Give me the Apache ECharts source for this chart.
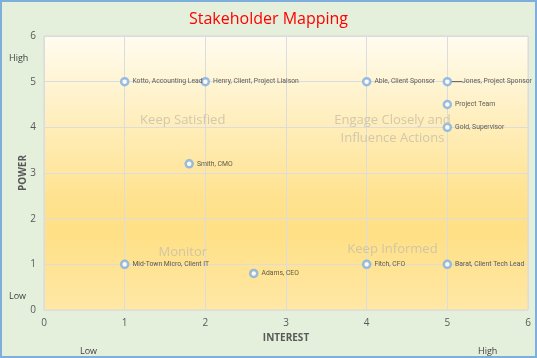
<!DOCTYPE html>
<html><head><meta charset="utf-8">
<script src="https://cdn.jsdelivr.net/npm/echarts@6/dist/echarts.min.js"></script>
<style>html,body{margin:0;padding:0;}#c{width:537px;height:358px;box-sizing:border-box;border:2px solid #7eaedc;background:#e4f0dc;}</style>
</head><body><div id="c"></div>
<script>
const names = ['Kotto, Accounting Lead','Henry, Client, Project Liaison','Able, Client Sponsor','Jones, Project Sponsor','Project Team','Gold, Supervisor','Smith, CMO','Mid-Town Micro, Client IT','Adams, CEO','Fitch, CFO','Barat, Client Tech Lead'];
const interest = [1,2,4,5,5,5,1.8,1,2.6,4,5];
const power = [5,5,5,5,4.5,4,3.2,1,0.8,1,1];
const quadNames = ['Keep Satisfied','Engage Closely and\nInfluence Actions','Monitor','Keep Informed'];
const quadX = [1.72,4.32,1.72,4.32];
const quadY = [4.16,3.96,1.27,1.33];

const chart = echarts.init(document.getElementById('c'));
const font = 'Open Sans';
const narrow = 'Roboto, sans-serif';
chart.setOption({
  animation:false,
  textStyle:{fontFamily:font},
  title:{text:'Stakeholder Mapping',left:'center',top:4,textStyle:{color:'#ff0000',fontSize:16,fontWeight:'normal',fontFamily:font}},
  grid:{left:42,right:7,top:34,bottom:46,containLabel:false,show:true,
    backgroundColor:new echarts.graphic.LinearGradient(0,0,0,1,[{offset:0,color:'#fffcf0'},{offset:0.6,color:'#ffe28e'},{offset:0.72,color:'#ffe086'},{offset:1,color:'#ffe8a6'}]),
    borderColor:'#d9d9d9',borderWidth:1},
  xAxis:{type:'value',min:0,max:6,interval:1,name:'INTEREST',nameLocation:'middle',nameGap:23,nameMoveOverlap:false,
    nameTextStyle:{color:'#595959',fontSize:10,fontWeight:'bold'},
    axisLine:{show:false},axisTick:{show:false},
    axisLabel:{color:'#595959',fontSize:10,margin:8},
    splitLine:{lineStyle:{color:'#dcdcdc',width:1}}},
  yAxis:{type:'value',min:0,max:6,interval:1,name:'POWER',nameLocation:'middle',nameGap:16,nameMoveOverlap:false,
    nameTextStyle:{color:'#595959',fontSize:10,fontWeight:'bold'},
    axisLine:{show:false},axisTick:{show:false},
    axisLabel:{color:'#595959',fontSize:10,margin:8},
    splitLine:{lineStyle:{color:'#dcdcdc',width:1}}},
  graphic:[
    {type:'text',left:7,top:52,style:{text:'High',fill:'#404040',font:'9px '+font}},
    {type:'text',left:7,top:290,style:{text:'Low',fill:'#404040',font:'9px '+font}},
    {type:'text',left:78,top:345,style:{text:'Low',fill:'#404040',font:'9px '+font}},
    {type:'text',left:476,top:345,style:{text:'High',fill:'#404040',font:'9px '+font}}
  ],
  series:[
    {type:'scatter',data:quadNames.map((n,i)=>({name:n,value:[quadX[i],quadY[i]]})),
     symbolSize:0,silent:true,
     label:{show:true,position:'inside',formatter:'{b}',color:'#c6bea9',fontSize:13,lineHeight:18,align:'center'}},
    {type:'scatter',data:names.map((n,i)=>({name:n,value:[interest[i],power[i]],
        labelLine:{show:i===3}})),
     symbol:'circle',symbolSize:7,
     itemStyle:{color:'#ffffff',borderColor:'#7eaee0',borderWidth:2.5},
     label:{show:true,position:'right',distance:3,formatter:'{b}',color:'#333333',fontSize:6.8,fontFamily:narrow},
     labelLine:{lineStyle:{color:'#595959',width:1}},
     labelLayout:function(p){ return p.dataIndex===3 ? {dx:7} : {}; }}
  ]
});
</script></body></html>
